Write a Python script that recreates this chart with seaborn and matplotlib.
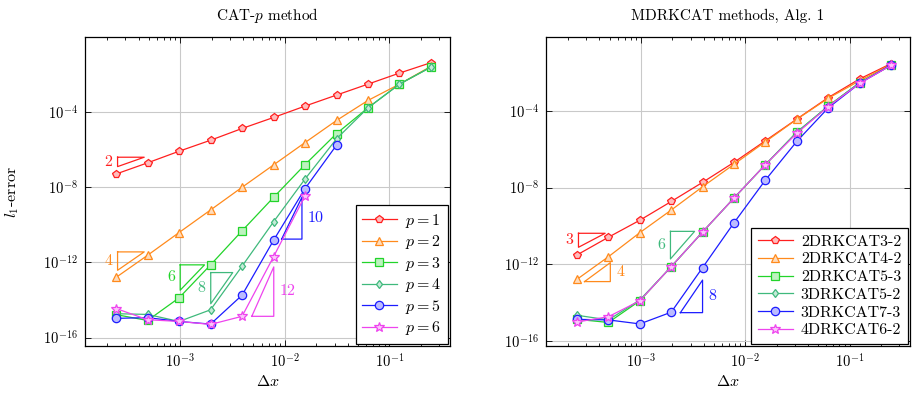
import matplotlib
matplotlib.use("Agg")
import matplotlib.pyplot as plt
import matplotlib.ticker as mticker
import numpy as np
import seaborn as sns

# ---------------- data ----------------
dx = [2.44140625e-4, 4.8828125e-4, 9.765625e-4, 1.953125e-3, 3.90625e-3,
      7.8125e-3, 1.5625e-2, 3.125e-2, 6.25e-2, 0.125, 0.25]

left_labels = ["$p=1$", "$p=2$", "$p=3$", "$p=4$", "$p=5$", "$p=6$"]
p1 = [5.1e-8, 2.0e-7, 8.3e-7, 3.2e-6, 1.35e-5, 5.2e-5, 2.1e-4, 8.1e-4, 3.1e-3, 1.2e-2, 4.3e-2]
p2 = [1.6e-13, 2.4e-12, 3.9e-11, 6.2e-10, 1.0e-8, 1.55e-7, 2.4e-6, 3.6e-5, 4.2e-4, 3.1e-3, 2.75e-2]
p3 = [1.66e-15, 8.1e-16, 1.3e-14, 7.4e-13, 4.8e-11, 2.9e-9, 1.6e-7, 7.2e-6, 1.7e-4, 3.1e-3, 2.5e-2]
p4 = [1.86e-15, 1.7e-15, 7.2e-16, 3.0e-15, 6.3e-13, 1.45e-10, 2.75e-8, 3.8e-6, 1.7e-4, 3.1e-3, 2.5e-2]
p5 = [1.05e-15, 1.15e-15, 7.2e-16, 5.2e-16, 1.8e-14, 1.5e-11, 8.5e-9, 1.74e-6]
p6 = [3.5e-15, 8.9e-16, 7.2e-16, 5.0e-16, 1.35e-15, 2.0e-12, 3.5e-9]
left_series = [p1, p2, p3, p4, p5, p6]

right_labels = ["2DRKCAT3-2", "2DRKCAT4-2", "2DRKCAT5-3", "3DRKCAT5-2", "3DRKCAT7-3", "4DRKCAT6-2"]
r1 = [3.1e-12, 2.6e-11, 2.0e-10, 1.9e-9, 1.9e-8, 2.1e-7, 2.8e-6, 3.8e-5, 5.0e-4, 4.7e-3, 2.95e-2]
r2 = [1.66e-13, 2.5e-12, 4.5e-11, 6.8e-10, 1.12e-8, 1.66e-7, 2.5e-6, 3.7e-5, 4.6e-4, 3.8e-3, 2.7e-2]
r3 = [1.35e-15, 9.3e-16, 1.26e-14, 7.6e-13, 4.9e-11, 2.9e-9, 1.6e-7, 7.8e-6, 1.8e-4, 3.0e-3, 2.4e-2]
r4 = [2.2e-15, 1.26e-15, 1.38e-14, 7.6e-13, 4.9e-11, 2.9e-9, 1.6e-7, 7.8e-6, 1.8e-4, 3.0e-3, 2.4e-2]
r5 = [1.35e-15, 1.26e-15, 7.8e-16, 3.2e-15, 6.8e-13, 1.48e-10, 2.5e-8, 2.6e-6, 1.45e-4, 2.75e-3, 2.5e-2]
r6 = [9.8e-16, 1.86e-15, 1.26e-14, 7.6e-13, 4.9e-11, 2.9e-9, 1.6e-7, 6.9e-6, 1.7e-4, 2.75e-3, 2.4e-2]
right_series = [r1, r2, r3, r4, r5, r6]

# slope triangles: label, (x0, x1), (ytop, ybottom), right-angle corner, colour index
left_tri_labels = ["2", "4", "6", "8", "10", "12"]
left_tri_x = [(2.52e-4, 4.53e-4), (2.52e-4, 4.53e-4), (1.0e-3, 1.71e-3),
              (1.96e-3, 3.18e-3), (9.33e-3, 1.46e-2), (4.84e-3, 7.85e-3)]
left_tri_y = [(3.98e-7, 1.26e-7), (3.63e-12, 3.80e-13), (7.41e-13, 3.31e-14),
              (2.88e-13, 6.31e-15), (2.95e-9, 1.74e-11), (5.75e-13, 1.35e-15)]
left_tri_kind = ["ul", "ul", "ul", "ul", "lr", "lr"]
left_tri_col = [0, 1, 2, 3, 4, 5]

right_tri_labels = ["3", "4", "6", "8"]
right_tri_x = [(2.52e-4, 4.54e-4), (2.88e-4, 5.09e-4), (1.92e-3, 3.27e-3), (2.39e-3, 3.90e-3)]
right_tri_y = [(4.17e-11, 7.76e-12), (1.23e-12, 1.26e-13), (5.25e-11, 1.91e-12), (1.51e-13, 3.02e-15)]
right_tri_kind = ["ul", "lr", "ul", "lr"]
right_tri_col = [0, 1, 3, 4]

colors = ["#ff1f1f", "#ff8a1c", "#22d42a", "#3fb97c", "#1c1cff", "#ee44ee"]
markers = ["p", "^", "s", "d", "o", "*"]
msizes = [5.5, 5.5, 6, 4.5, 6, 7]

# ---------------- style ----------------
plt.rcParams["font.family"] = ["cmr10", "DejaVu Serif"]
plt.rcParams["mathtext.fontset"] = "cm"
plt.rcParams["axes.unicode_minus"] = False
plt.rcParams["axes.formatter.use_mathtext"] = True


def lighten(c, a=0.3):
    rgb = np.array(matplotlib.colors.to_rgb(c))
    return tuple(rgb * a + (1 - a))


fig = plt.figure(figsize=(9.14, 3.94), dpi=100)
ax1 = fig.add_axes([85 / 914, 1 - 346 / 394, (450 - 85) / 914, (346 - 37) / 394])
ax2 = fig.add_axes([546 / 914, 1 - 346 / 394, (910 - 546) / 914, (346 - 37) / 394])


def draw(ax, series, labels, ylim, title):
    for i, (ys, lab) in enumerate(zip(series, labels)):
        xs = dx[:len(ys)]
        sns.lineplot(x=xs, y=ys, ax=ax, color=colors[i], marker=markers[i],
                     markersize=msizes[i], markerfacecolor=lighten(colors[i], 0.3),
                     markeredgecolor=colors[i], markeredgewidth=0.9, linewidth=0.9,
                     label=lab, estimator=None, sort=False, zorder=3 + i * 0.01)
    ax.set_xscale("log")
    ax.set_yscale("log")
    ax.set_xlim(10 ** -3.91, 10 ** -0.42)
    ax.set_ylim(*ylim)
    ax.xaxis.set_major_locator(mticker.FixedLocator([1e-3, 1e-2, 1e-1]))
    ax.xaxis.set_minor_locator(mticker.LogLocator(base=10, subs=np.arange(2, 10), numticks=20))
    ax.xaxis.set_minor_formatter(mticker.NullFormatter())
    ax.yaxis.set_major_locator(mticker.FixedLocator([1e-16, 1e-12, 1e-8, 1e-4]))
    ax.yaxis.set_minor_locator(mticker.NullLocator())
    ax.xaxis.set_major_formatter(mticker.LogFormatterSciNotation())
    ax.yaxis.set_major_formatter(mticker.LogFormatterSciNotation())
    ax.grid(True, which="major", color="#c9c9c9", linewidth=0.8, zorder=0)
    ax.set_axisbelow(True)
    ax.tick_params(which="both", direction="in", top=True, right=True, labelsize=10.5, pad=5)
    ax.tick_params(which="major", length=4, width=0.6)
    ax.tick_params(which="minor", length=2.5, width=0.6)
    for s in ax.spines.values():
        s.set_linewidth(0.9)
    ax.set_title(title, fontsize=11, pad=12)
    ax.set_xlabel(r"$\Delta x$", fontsize=11.5, labelpad=2)
    leg = ax.legend(loc="lower right", bbox_to_anchor=(1.0, 0.0), borderaxespad=0.15,
                    fontsize=11.5, frameon=True, fancybox=False, edgecolor="black",
                    framealpha=1, handlelength=2.2, labelspacing=0.22, borderpad=0.4,
                    handletextpad=0.5)
    leg.get_frame().set_linewidth(0.9)


def triangles(ax, labs, txs, tys, kinds, cols):
    for lab, (x0, x1), (yt, yb), k, ci in zip(labs, txs, tys, kinds, cols):
        c = colors[ci]
        ym = np.sqrt(yt * yb)
        if k == "ul":
            ax.plot([x0, x1, x0, x0], [yt, yt, yb, yt], color=c, linewidth=0.9, zorder=2)
            ax.annotate(lab, (x0, ym), xytext=(-5, 0), textcoords="offset pixels",
                        ha="right", va="center", color=c, fontsize=11.5)
        else:
            ax.plot([x0, x1, x1, x0], [yb, yt, yb, yb], color=c, linewidth=0.9, zorder=2)
            ax.annotate(lab, (x1, ym), xytext=(6, 0), textcoords="offset pixels",
                        ha="left", va="center", color=c, fontsize=11.5)


draw(ax1, left_series, left_labels, (10 ** -16.45, 10 ** 0.0), r"CAT-$p$ method")
draw(ax2, right_series, right_labels, (10 ** -16.26, 10 ** -0.14), "MDRKCAT methods, Alg. 1")
triangles(ax1, left_tri_labels, left_tri_x, left_tri_y, left_tri_kind, left_tri_col)
triangles(ax2, right_tri_labels, right_tri_x, right_tri_y, right_tri_kind, right_tri_col)
ax1.set_ylabel(r"$l_1$-error", fontsize=11.5, labelpad=1)
ax1.yaxis.set_label_coords(-0.175, 0.5)

fig.savefig("out.png", dpi=100)
